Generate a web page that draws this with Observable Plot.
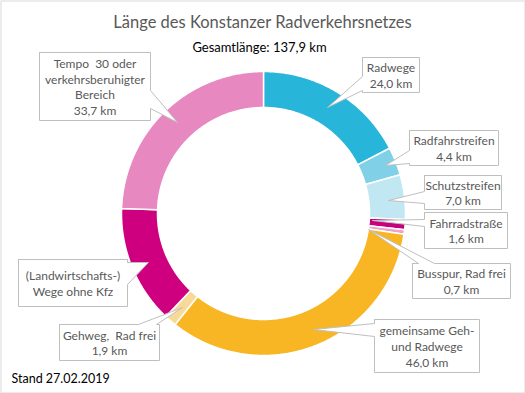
<!DOCTYPE html>
<html>
<head>
<meta charset="utf-8">
<script src="https://cdn.jsdelivr.net/npm/d3@7"></script>
<script src="https://cdn.jsdelivr.net/npm/@observablehq/plot@0.6"></script>
<style>
  html, body { margin: 0; padding: 0; background: #fff; }
</style>
</head>
<body>
<div id="chart"></div>
<script>
// ---- data ----
const categories = ["Radwege", "Radfahrstreifen", "Schutzstreifen", "Fahrradstraße", "Busspur, Rad frei",
  "gemeinsame Geh- und Radwege", "Gehweg, Rad frei", "(Landwirtschafts-) Wege ohne Kfz", "Tempo 30 oder verkehrsberuhigter Bereich"];
const values = [24.0, 4.4, 7.0, 1.6, 0.7, 46.0, 1.9, 18.6, 33.7];
const labelNames = ["Radwege", "Radfahrstreifen", "Schutzstreifen", "Fahrradstraße", "Busspur, Rad frei",
  "gemeinsame Geh-\nund Radwege", "Gehweg,  Rad frei", "(Landwirtschafts-)\nWege ohne Kfz", "Tempo  30 oder\nverkehrsberuhigter\nBereich"];
const showValue = [true, true, true, true, true, true, true, false, true];
const titleText = "Länge des Konstanzer Radverkehrsnetzes";
const totalText = "Gesamtlänge: 137,9 km";
const standText = "Stand 27.02.2019";

// ---- style / layout ----
const colors = ["#27B5DA", "#80D0E8", "#C1E8F2", "#C8007E", "#EFA3C8", "#F8B625", "#F8DA98", "#CF007F", "#E888C0"];
const W = 525, H = 393;
const cx = 263, cy = 213, rOuter = 142, rInner = 106;
// callout boxes: [x1,y1,x2,y2], tail side, base span along side, tip
const callouts = [
  {box: [362, 57, 419, 92], side: "left", base: [76, 90], tip: [327, 107]},
  {box: [409, 130, 498, 165], side: "left", base: [150, 163], tip: [385, 165]},
  {box: [424, 175, 501, 209], side: "left", base: [191, 203], tip: [388, 200]},
  {box: [424, 212, 507, 248], side: "left", base: [219, 226], tip: [372, 220]},
  {box: [412, 263, 510, 298], side: "top", base: [418, 434], tip: [368, 229]},
  {box: [374, 319, 479, 372], side: "left", base: [323, 336], tip: [313, 329]},
  {box: [59, 324, 159, 360], side: "top", base: [138, 156], tip: [182, 307]},
  {box: [18, 259, 127, 306], side: "right", base: [262, 284], tip: [148, 262]},
  {box: [39, 52, 150, 120], side: "right", base: [90, 108], tip: [177, 122]}
];

// ---- donut slices from values ----
const total = d3.sum(values);
const slices = [];
let acc = 0;
values.forEach((v, i) => {
  const a0 = acc / total * 2 * Math.PI;
  acc += v;
  const a1 = acc / total * 2 * Math.PI;
  const n = Math.max(2, Math.ceil((a1 - a0) / (Math.PI / 360)));
  const pts = [];
  for (let k = 0; k <= n; k++) { const a = a0 + (a1 - a0) * k / n; pts.push([cx + rOuter * Math.sin(a), cy - rOuter * Math.cos(a)]); }
  for (let k = n; k >= 0; k--) { const a = a0 + (a1 - a0) * k / n; pts.push([cx + rInner * Math.sin(a), cy - rInner * Math.cos(a)]); }
  pts.push(pts[0]);
  pts.forEach(([x, y]) => slices.push({cat: categories[i], x, y}));
});

// ---- callout polygons ----
const bubbles = [];
callouts.forEach((c, i) => {
  const [x1, y1, x2, y2] = c.box, [s1, s2] = c.base, t = c.tip;
  const p = [[x1, y1]];
  if (c.side === "top") p.push([s1, y1], t, [s2, y1]);
  p.push([x2, y1]);
  if (c.side === "right") p.push([x2, s1], t, [x2, s2]);
  p.push([x2, y2]);
  if (c.side === "bottom") p.push([s2, y2], t, [s1, y2]);
  p.push([x1, y2]);
  if (c.side === "left") p.push([x1, s2], t, [x1, s1]);
  p.push([x1, y1]);
  p.forEach(([x, y]) => bubbles.push({id: i, x, y}));
});

const fmt = v => v.toFixed(1).replace(".", ",") + " km";
const labels = callouts.map((c, i) => ({
  x: (c.box[0] + c.box[2]) / 2,
  y: (c.box[1] + c.box[3]) / 2,
  text: labelNames[i] + (showValue[i] ? "\n" + fmt(values[i]) : "")
}));

const chart = Plot.plot({
  width: W, height: H,
  margin: 0,
  x: {domain: [0, W], range: [0, W], axis: null},
  y: {domain: [0, H], range: [0, H], axis: null},
  color: {domain: categories, range: colors},
  style: {fontFamily: "Lato, 'Open Sans', sans-serif", background: "#fff"},
  marks: [
    Plot.frame({stroke: "#d9d9d9", inset: 0.5}),
    Plot.line(slices, {x: "x", y: "y", z: "cat", fill: "cat", stroke: "#fff", strokeWidth: 1.5, curve: "linear"}),
    Plot.line(bubbles, {x: "x", y: "y", z: "id", fill: "#fff", stroke: "#bfbfbf", strokeWidth: 1, curve: "linear"}),
    Plot.text(labels, {x: "x", y: "y", text: "text", fill: "#595959", fontSize: 12, lineHeight: 1.3, textAnchor: "middle"}),
    Plot.text([titleText], {x: 262, y: 22, text: d => d, fill: "#595959", fontSize: 16.5}),
    Plot.text([totalText], {x: 259, y: 47, text: d => d, fill: "#000", fontSize: 13}),
    Plot.text([standText], {x: 11, y: 378, text: d => d, fill: "#000", fontSize: 12.5, textAnchor: "start"})
  ]
});
document.getElementById("chart").appendChild(chart);
</script>
</body>
</html>
